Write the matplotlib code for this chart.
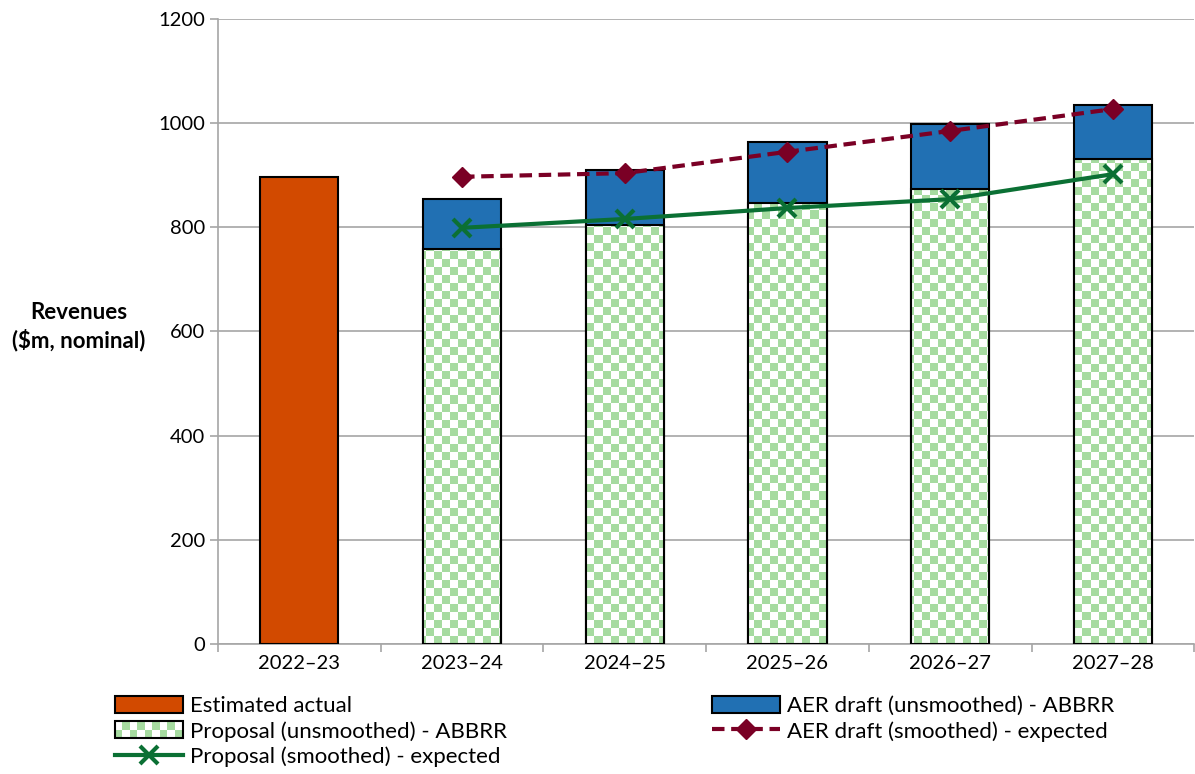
import numpy as np
import matplotlib
matplotlib.use('Agg')
import matplotlib.pyplot as plt
from matplotlib.colors import ListedColormap
from matplotlib.patches import Patch, Rectangle
from matplotlib.lines import Line2D
from matplotlib.legend_handler import HandlerBase

plt.rcParams['font.family'] = ['Lato', 'DejaVu Sans']

years = ['2022–23', '2023–24', '2024–25', '2025–26', '2026–27', '2027–28']
estimated_actual = [897]
proposal_unsmoothed = [758, 804, 847, 874, 931]
aer_unsmoothed = [854, 910, 964, 998, 1035]
aer_smoothed = [897, 904, 945, 985, 1027]
proposal_smoothed = [799, 816, 837, 854, 902]

c_orange = '#d24a00'
c_blue = '#2170b3'
c_red = '#7a0025'
c_green = '#0b7034'
c_check = '#a6dba0'

class HandlerChecker(HandlerBase):
    def create_artists(self, legend, orig_handle, xdescent, ydescent,
                       width, height, fontsize, trans):
        arts = []
        n = 9
        cw = width / n
        for row in range(2):
            for i in range(n):
                if (i + row) % 2 == 0:
                    r = Rectangle((-xdescent + i * cw, -ydescent + row * height / 2), cw, height / 2,
                                  facecolor=c_check, edgecolor='none', transform=trans)
                    arts.append(r)
        border = Rectangle((-xdescent, -ydescent), width, height, facecolor='none',
                           edgecolor='black', lw=1.5, transform=trans)
        arts.append(border)
        return arts

fig = plt.figure(figsize=(11.95, 7.74), dpi=100)
ax = fig.add_axes([0.1824, 0.168, 0.817, 0.8075])

x = np.arange(len(years))
w = 0.48

ax.bar(x[:1], estimated_actual, width=w, color=c_orange, edgecolor='black', lw=1.5, zorder=3)
ax.bar(x[1:], aer_unsmoothed, width=w, color=c_blue, edgecolor='black', lw=1.5, zorder=3)
prop_bars = ax.bar(x[1:], proposal_unsmoothed, width=w, facecolor='none', edgecolor='black', lw=1.5, zorder=5)

# checkerboard fill clipped to each proposal bar
nx, ny = 122, 78
ii, jj = np.meshgrid(np.arange(nx), np.arange(ny))
checker = (ii + jj) % 2
cmap = ListedColormap(['white', c_check])
for b in prop_bars:
    im = ax.imshow(checker, extent=(-0.5, 5.5, 0, 1200), origin='lower', cmap=cmap,
                   interpolation='nearest', aspect='auto', zorder=4)
    im.set_clip_path(b)

ax.plot(x[1:], aer_smoothed, color=c_red, ls=(0, (3, 1.6)), lw=3, marker='D', ms=10, zorder=6)
ax.plot(x[1:], proposal_smoothed, color=c_green, lw=3, marker='x', ms=13, mew=3, zorder=6)

ax.set_xlim(-0.5, 5.5)
ax.set_ylim(0, 1200)
ax.set_yticks(range(0, 1201, 200))
ax.set_xticks(x)
ax.set_xticklabels(years)
ax.set_xticks(np.arange(-0.5, 5.6, 1), minor=True)
ax.tick_params(labelsize=14.5, color='#a6a6a6', length=6, width=1.2)
ax.tick_params(axis='x', which='major', length=0, pad=8)
ax.tick_params(axis='x', which='minor', length=6, color='#a6a6a6', width=1.2)
ax.grid(axis='y', color='#a6a6a6', lw=1.2, zorder=0)
ax.set_axisbelow(True)
for s in ['top', 'right']:
    ax.spines[s].set_visible(False)
for s in ['left', 'bottom']:
    ax.spines[s].set_color('#a6a6a6')
    ax.spines[s].set_linewidth(1.2)

fig.text(0.066, 0.578, 'Revenues\n($m, nominal)', ha='center', va='center',
         fontsize=16, fontweight='bold', linespacing=1.35)

checker_handle = Patch()
handles = [
    Patch(facecolor=c_orange, edgecolor='black', lw=1.5),
    checker_handle,
    Line2D([], [], color=c_green, lw=3, marker='x', ms=13, mew=3),
    Patch(facecolor=c_blue, edgecolor='black', lw=1.5),
    Line2D([], [], color=c_red, lw=3, ls=(0, (3, 1.6)), marker='D', ms=10),
]
labels = ['Estimated actual', 'Proposal (unsmoothed) - ABBRR', 'Proposal (smoothed) - expected',
          'AER draft (unsmoothed) - ABBRR', 'AER draft (smoothed) - expected']
fig.legend(handles, labels, ncol=2, loc='upper left', bbox_to_anchor=(0.083, 0.121),
           frameon=False, fontsize=16, handlelength=3.05, handleheight=0.8,
           handletextpad=0.35, columnspacing=9.2, labelspacing=0.22,
           borderpad=0.2, handler_map={checker_handle: HandlerChecker()})

fig.savefig('out.png', dpi=100)
